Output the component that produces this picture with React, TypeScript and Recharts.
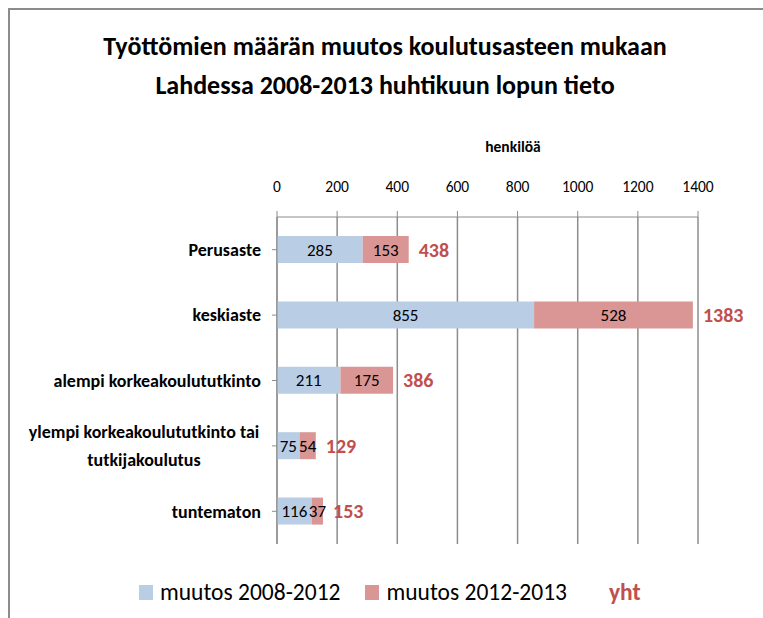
import { BarChart, Bar, XAxis, YAxis, CartesianGrid, LabelList } from "recharts";

const categories = [
    "Perusaste",
    "keskiaste",
    "alempi korkeakoulututkinto",
    "ylempi korkeakoulututkinto tai\ntutkijakoulutus",
    "tuntematon",
];
const muutos2008_2012 = [285, 855, 211, 75, 116];
const muutos2012_2013 = [153, 528, 175, 54, 37];
const yht = [438, 1383, 386, 129, 153];
const xTicks = [0, 200, 400, 600, 800, 1000, 1200, 1400];

const data = categories.map((name, i) => ({
    name,
    a: muutos2008_2012[i],
    b: muutos2012_2013[i],
    yht: yht[i],
}));

const FONT = 'Carlito, Calibri, "Liberation Sans Narrow", "DejaVu Sans Condensed", "Open Sans", sans-serif';
const BLUE = "#B9CDE5";
const RED = "#D99694";
const DARK_RED = "#C0504D";
const GRID = "#8C8C8C";

// two-line labels are centred under each other, like Excel does
const CategoryTick = ({ x, y, payload }: any) => {
    const lines = String(payload.value).split("\n");
    if (lines.length === 1) {
        return (
            <text x={x} y={y} dy="0.35em" textAnchor="end" fontSize={18} fontWeight="bold" fill="#000">
                {lines[0]}
            </text>
        );
    }
    const cx = x - 117;
    return (
        <text x={cx} y={y} textAnchor="middle" fontSize={18} fontWeight="bold" fill="#000">
            <tspan x={cx} dy="-0.45em">{lines[0]}</tspan>
            <tspan x={cx} dy="1.55em">{lines[1]}</tspan>
        </text>
    );
};

export default function App() {
    return (
        <div style={{ position: "absolute", left: 0, top: 0, width: 763, height: 618, overflow: "hidden", fontFamily: FONT, background: "#fff" }}>
            <div style={{ position: "absolute", left: 8, top: 8, width: 820, height: 700, borderLeft: "2px solid #8C8C8C", borderTop: "2px solid #8C8C8C" }} />
            <div style={{ position: "absolute", left: 0, top: 27, width: 770, textAlign: "center", fontWeight: "bold", fontSize: 26, lineHeight: "39px", color: "#000" }}>
                Työttömien määrän muutos koulutusasteen mukaan
                <br />
                Lahdessa 2008-2013 huhtikuun lopun tieto
            </div>
            <div style={{ position: "absolute", left: 473, top: 137, width: 80, textAlign: "center", fontWeight: "bold", fontSize: 15.5, color: "#000" }}>
                henkilöä
            </div>
            <div style={{ position: "absolute", left: 0, top: 0 }}>
                <BarChart
                    width={763}
                    height={618}
                    layout="vertical"
                    data={data}
                    barSize={27}
                    margin={{ top: 187, right: 65, bottom: 74, left: 0 }}
                >
                    <CartesianGrid horizontal={false} stroke={GRID} strokeWidth={1.5} />
                    <XAxis
                        type="number"
                        orientation="top"
                        domain={[0, 1400]}
                        ticks={xTicks}
                        height={30}
                        stroke={GRID}
                        tickSize={6}
                        tickMargin={19}
                        tick={{ fill: "#000", fontSize: 15.5 }}
                    />
                    <YAxis
                        type="category"
                        dataKey="name"
                        width={277}
                        stroke={GRID}
                        tickSize={5}
                        tickMargin={11}
                        tick={<CategoryTick />}
                        interval={0}
                    />
                    <Bar dataKey="a" stackId="s" fill={BLUE} isAnimationActive={false}>
                        <LabelList dataKey="a" position="center" fill="#000" fontSize={17} />
                    </Bar>
                    <Bar dataKey="b" stackId="s" fill={RED} isAnimationActive={false}>
                        <LabelList dataKey="b" position="center" fill="#000" fontSize={17} />
                        <LabelList dataKey="yht" position="right" offset={10} fill={DARK_RED} fontSize={20} fontWeight="bold" />
                    </Bar>
                </BarChart>
            </div>
            <div style={{ position: "absolute", left: 139, top: 578, display: "flex", alignItems: "center", fontSize: 23.5, lineHeight: "28px", color: "#000", whiteSpace: "nowrap" }}>
                <span style={{ display: "inline-block", width: 14, height: 15, background: BLUE, marginRight: 7 }} />
                <span style={{ marginRight: 25 }}>muutos 2008-2012</span>
                <span style={{ display: "inline-block", width: 14, height: 15, background: RED, marginRight: 7 }} />
                <span style={{ marginRight: 42 }}>muutos 2012-2013</span>
                <span style={{ color: DARK_RED, fontWeight: "bold" }}>yht</span>
            </div>
        </div>
    );
}
